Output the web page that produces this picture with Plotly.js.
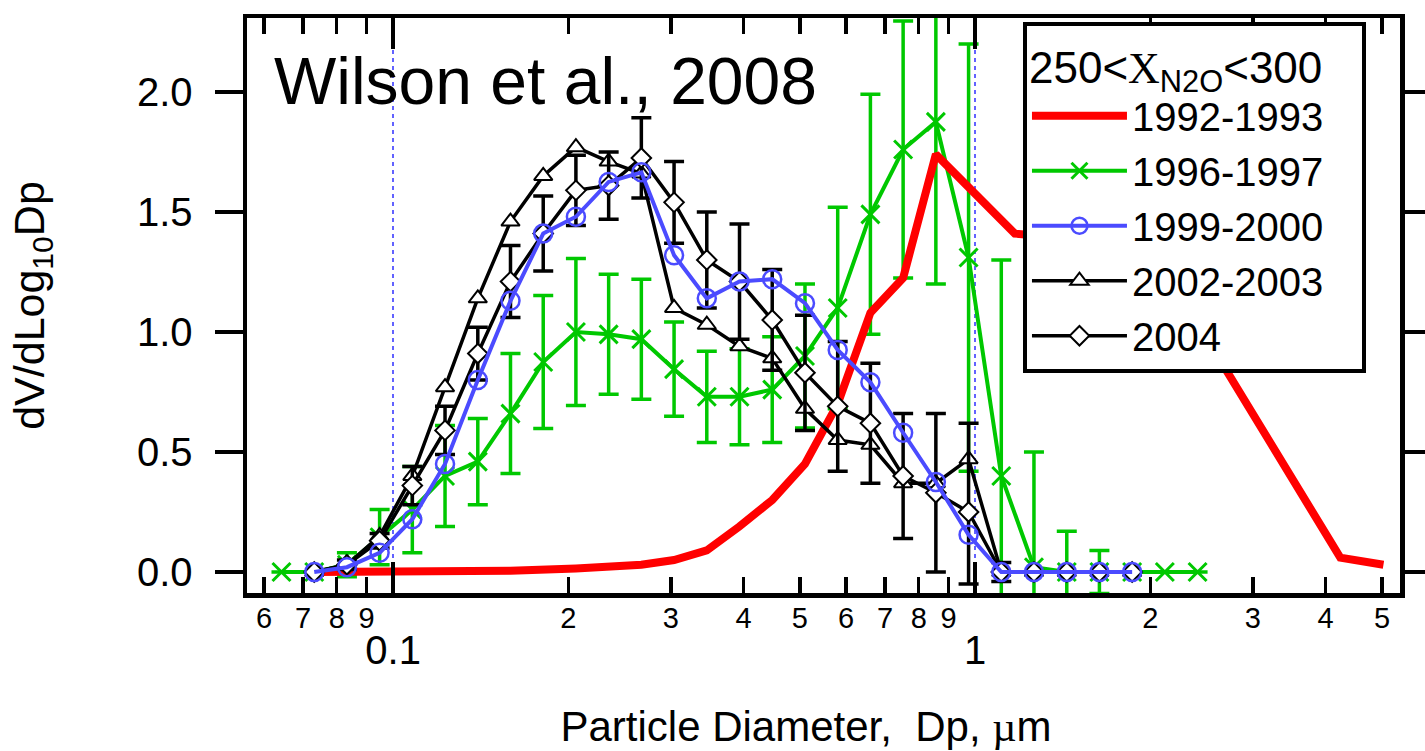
<!DOCTYPE html>
<html>
<head>
<meta charset="utf-8">
<script src="https://cdn.plot.ly/plotly-3.0.1.min.js"></script>
<style>html,body{margin:0;padding:0;background:#fff;}#chart{width:1425px;height:751px;}</style>
</head>
<body>
<div id="chart"></div>
<script>
// Particle diameter bins (µm)
const binsDp = [0.0732, 0.0833, 0.0948, 0.1079, 0.1228, 0.1398, 0.1591, 0.1811, 0.2061, 0.2346, 0.2670, 0.3039, 0.3459, 0.3937, 0.4481, 0.5101, 0.5806, 0.6608, 0.7521, 0.8561, 0.9744, 1.109, 1.262, 1.437, 1.635, 1.861];
const greenDp = [0.0643, 0.0732, 0.0833, 0.0948, 0.1079, 0.1228, 0.1398, 0.1591, 0.1811, 0.2061, 0.2346, 0.2670, 0.3039, 0.3459, 0.3937, 0.4481, 0.5101, 0.5806, 0.6608, 0.7521, 0.8561, 0.9744, 1.109, 1.262, 1.437, 1.635, 1.861, 2.118, 2.411];
const redDp = [0.0732, 0.1079, 0.1591, 0.2061, 0.2670, 0.3039, 0.3459, 0.3937, 0.4481, 0.5101, 0.5806, 0.6608, 0.7521, 0.8561, 1.17, 2.0, 4.24, 5.03];

// 1992-1993
const v1992 = [0, 0.002, 0.005, 0.015, 0.03, 0.05, 0.09, 0.19, 0.30, 0.45, 0.70, 1.08, 1.225, 1.74, 1.41, 1.36, 0.06, 0.03];
// 1996-1997
const v1996 = [0, 0, 0.03, 0.145, 0.26, 0.40, 0.46, 0.66, 0.875, 1.00, 0.99, 0.97, 0.845, 0.73, 0.73, 0.76, 0.90, 1.10, 1.49, 1.76, 1.875, 1.31, 0.40, 0.02, 0, 0, 0, 0, 0];
const e1996 = [0, 0, 0.05, 0.115, 0.18, 0.21, 0.18, 0.25, 0.277, 0.306, 0.25, 0.25, 0.196, 0.19, 0.20, 0.22, 0.30, 0.42, 0.50, 0.535, 0.675, 0.89, 0.90, 0.48, 0.17, 0.09, 0, 0, 0];
// 1999-2000
const v1999 = [0, 0.02, 0.08, 0.22, 0.45, 0.80, 1.13, 1.41, 1.48, 1.625, 1.665, 1.32, 1.14, 1.21, 1.22, 1.12, 0.925, 0.79, 0.58, 0.375, 0.155, 0, 0, 0, 0, 0];
// 2002-2003
const v2002 = [0, 0.03, 0.15, 0.40, 0.77, 1.14, 1.46, 1.65, 1.77, 1.71, 1.66, 1.10, 1.03, 0.94, 0.89, 0.68, 0.55, 0.53, 0.37, 0.37, 0.47, 0, 0, 0, 0, 0];
// 2004
const v2004 = [0, 0.03, 0.13, 0.36, 0.59, 0.91, 1.21, 1.41, 1.59, 1.61, 1.725, 1.54, 1.30, 1.21, 1.05, 0.83, 0.69, 0.62, 0.40, 0.33, 0.25, 0, 0, 0, 0, 0];
const e2004Plus = [0, 0.02, 0.03, 0.08, 0.10, 0.11, 0.15, 0.156, 0.146, 0.14, 0.167, 0.17, 0.20, 0.24, 0.21, 0.24, 0.27, 0.25, 0.26, 0.33, 0.37, 0.04, 0, 0, 0, 0];
const e2004Minus = [0, 0.02, 0.03, 0.08, 0.10, 0.11, 0.15, 0.156, 0.146, 0.14, 0.167, 0.17, 0.20, 0.24, 0.21, 0.24, 0.27, 0.25, 0.26, 0.33, 0.30, 0.04, 0, 0, 0, 0];

const seriesNames = ['1992-1993', '1996-1997', '1999-2000', '2002-2003', '2004'];
const minorTickVals = [0.06, 0.07, 0.08, 0.09, 0.2, 0.3, 0.4, 0.5, 0.6, 0.7, 0.8, 0.9, 2, 3, 4, 5];
const minorTickText = ['6', '7', '8', '9', '2', '3', '4', '5', '6', '7', '8', '9', '2', '3', '4', '5'];
const decadeTickVals = [0.1, 1];
const decadeTickText = ['0.1', '1'];
const yTickVals = [0, 0.5, 1.0, 1.5, 2.0];

const GREEN = '#00c800', BLUE = '#4b4bff', RED = '#ff0000';
const xRange = [Math.log10(0.0561), Math.log10(5.37)];
const PAD = '&nbsp;&nbsp;&nbsp;'; // widens the legend box to match the reference

const traces = [
  {
    x: greenDp, y: v1996, name: seriesNames[1], legendrank: 2, type: 'scatter', mode: 'lines+markers',
    line: {color: GREEN, width: 4},
    marker: {symbol: 'x-thin', size: 18, color: GREEN, line: {width: 3, color: GREEN}},
    error_y: {type: 'data', array: e1996, visible: true, color: GREEN, thickness: 3.5, width: 10}
  },
  {
    x: redDp, y: v1992, name: seriesNames[0], legendrank: 1, type: 'scatter', mode: 'lines',
    line: {color: RED, width: 8}
  },
  {
    x: binsDp, y: v2002, name: seriesNames[3] + PAD, legendrank: 4, type: 'scatter', mode: 'lines+markers',
    line: {color: 'black', width: 3.5},
    marker: {symbol: 'triangle-up', size: 16, color: 'white', line: {width: 2, color: 'black'}}
  },
  {
    x: binsDp, y: v2004, name: seriesNames[4], legendrank: 5, type: 'scatter', mode: 'lines+markers',
    line: {color: 'black', width: 3.5},
    marker: {symbol: 'diamond', size: 15, color: 'white', line: {width: 2, color: 'black'}},
    error_y: {type: 'data', symmetric: false, array: e2004Plus, arrayminus: e2004Minus, visible: true, color: 'black', thickness: 3.5, width: 10}
  },
  {
    x: binsDp, y: v1999, name: seriesNames[2], legendrank: 3, type: 'scatter', mode: 'lines+markers',
    line: {color: BLUE, width: 4},
    marker: {symbol: 'circle-open', size: 18, color: BLUE, line: {width: 2.5, color: BLUE}}
  },
  {
    x: decadeTickVals, y: [null, null], xaxis: 'x2', yaxis: 'y', type: 'scatter', mode: 'markers',
    showlegend: false, hoverinfo: 'skip'
  }
];

const layout = {
  width: 1425, height: 751,
  margin: {l: 247, r: 25, t: 18, b: 158, pad: 0},
  paper_bgcolor: 'white', plot_bgcolor: 'white',
  font: {family: '"Liberation Sans", Arial, sans-serif', color: 'black', size: 30},
  showlegend: true,
  xaxis: {
    type: 'log', range: xRange, autorange: false,
    tickmode: 'array', tickvals: minorTickVals, ticktext: minorTickText,
    ticks: 'inside', ticklen: 16, tickwidth: 3.5, tickcolor: 'black',
    showline: true, linewidth: 4.5, linecolor: 'black', mirror: 'ticks',
    showgrid: false, zeroline: false,
    tickfont: {size: 29, color: 'black'}, ticklabelstandoff: -4,
    automargin: false,
    title: {text: 'Particle Diameter,  Dp, <span style="font-family:\'Liberation Serif\'">µ</span>m&nbsp;&nbsp;&nbsp;', font: {size: 42, color: 'black'}, standoff: 80}
  },
  xaxis2: {
    type: 'log', range: xRange, autorange: false, overlaying: 'x', anchor: 'y', side: 'bottom',
    tickmode: 'array', tickvals: decadeTickVals, ticktext: decadeTickText,
    ticks: 'inside', ticklen: 31, tickwidth: 3.5, tickcolor: 'black',
    showline: false, mirror: 'ticks',
    showgrid: true, gridcolor: '#6262ff', griddash: '4px,4px', gridwidth: 1.3, zeroline: false,
    tickfont: {size: 40, color: 'black'}, ticklabelstandoff: 30,
    automargin: false
  },
  yaxis: {
    range: [-0.0875, 2.308], autorange: false,
    tickmode: 'array', tickvals: yTickVals, tickformat: '.1f',
    ticks: 'outside', ticklen: 28, tickwidth: 3.5, tickcolor: 'black',
    showline: true, linewidth: 4.5, linecolor: 'black', mirror: 'ticks',
    showgrid: false, zeroline: false,
    tickfont: {size: 40, color: 'black'}, ticklabelstandoff: 14,
    automargin: false,
    title: {text: 'dV/dLog<sub>10</sub>Dp', font: {size: 43, color: 'black'}, standoff: 80}
  },
  legend: {
    x: 0.673, y: 0.993, xanchor: 'left', yanchor: 'top',
    bgcolor: 'white', bordercolor: 'black', borderwidth: 4,
    font: {size: 40, color: 'black'}, itemwidth: 95,
    title: {text: '250&lt;<span style="font-family:\'Liberation Serif\'">X</span><sub>N2O</sub>&lt;300', font: {size: 44, color: 'black'}}
  },
  annotations: [
    {text: 'Wilson et al., 2008', xref: 'paper', yref: 'paper', x: 0.0217, y: 0.89, xanchor: 'left', yanchor: 'middle',
     showarrow: false, font: {size: 66, color: 'black'}}
  ]
};

Plotly.newPlot('chart', traces, layout, {staticPlot: true, displayModeBar: false});
</script>
</body>
</html>
